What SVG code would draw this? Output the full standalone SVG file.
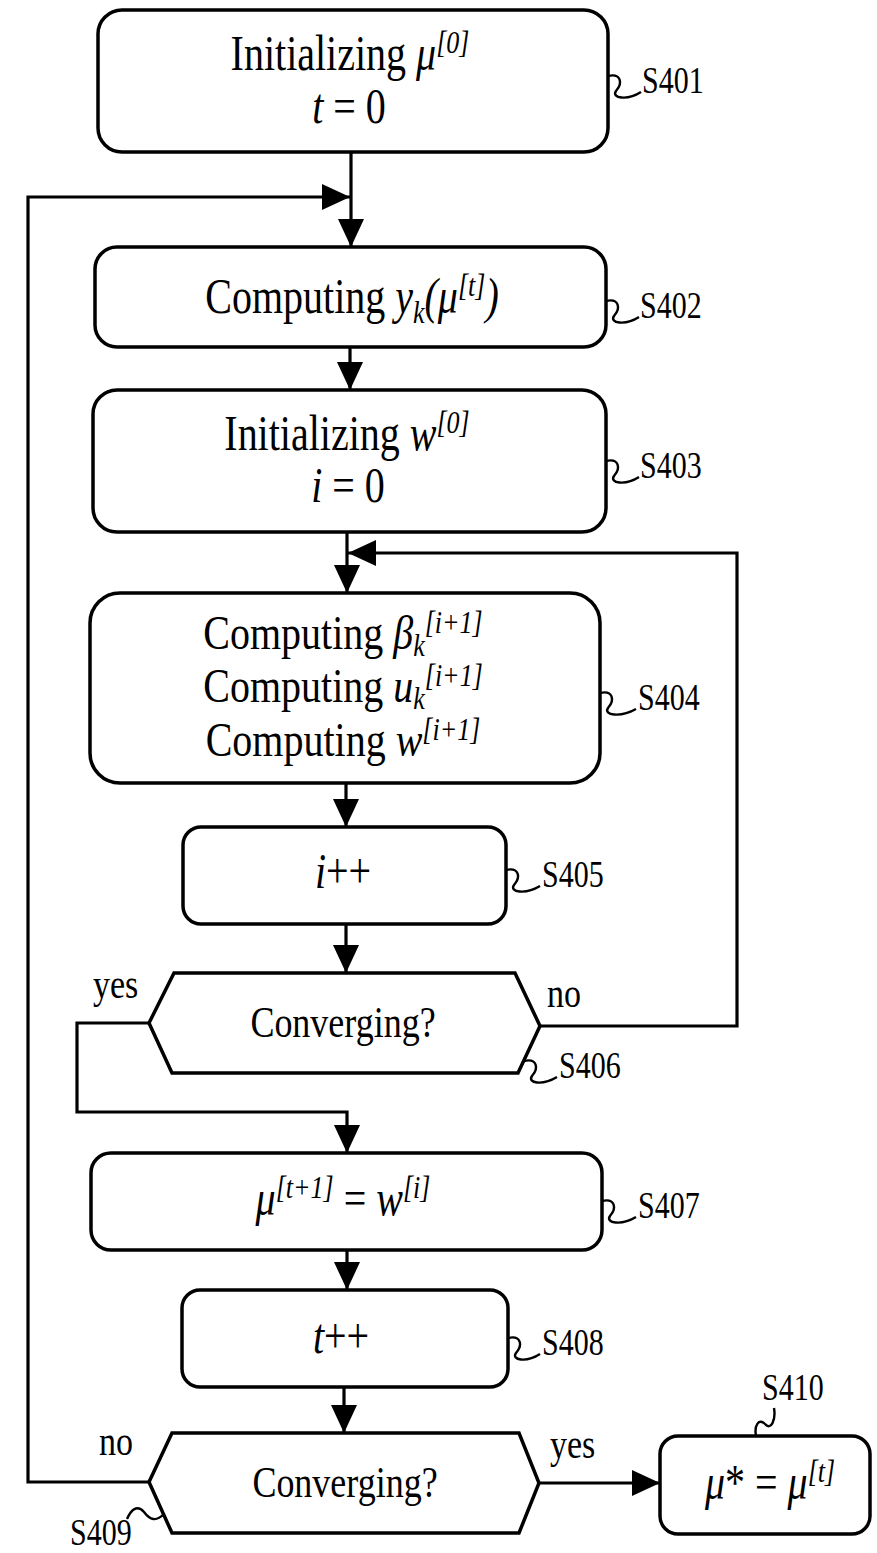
<svg xmlns="http://www.w3.org/2000/svg" width="877" height="1553" viewBox="0 0 877 1553">
<style>
  .box{fill:#fff;stroke:#000;stroke-width:3.5}
  .ln{fill:none;stroke:#000;stroke-width:3.2}
  .sq{fill:none;stroke:#000;stroke-width:2.4}
  text{font-family:"Liberation Serif","Times New Roman",serif;fill:#000}
  .t{font-size:40px;text-anchor:middle}
  .c{font-size:36px;text-anchor:middle}
  .lbl{font-size:30px}
  .yn{font-size:34px}
  .i{font-style:italic}
  .s{font-size:26px}
</style>
<defs>
  <marker id="ah" markerUnits="userSpaceOnUse" markerWidth="28" markerHeight="27" viewBox="0 0 28 26" refX="28" refY="13" orient="auto">
    <path d="M0,0 L28,13 L0,26 z" fill="#000"/>
  </marker>
</defs>

<g id="connectors">
  <path class="ln" d="M351,152 V247" marker-end="url(#ah)"/>
  <path class="ln" d="M149,1482 H28 V197 H350" marker-end="url(#ah)"/>
  <path class="ln" d="M350,347 V390" marker-end="url(#ah)"/>
  <path class="ln" d="M347,532 V593" marker-end="url(#ah)"/>
  <path class="ln" d="M540,1026 H737 V553 H348" marker-end="url(#ah)"/>
  <path class="ln" d="M346,783 V827" marker-end="url(#ah)"/>
  <path class="ln" d="M346,924 V973" marker-end="url(#ah)"/>
  <path class="ln" d="M149,1023 H77 V1112 H347 V1153" marker-end="url(#ah)"/>
  <path class="ln" d="M347,1250 V1290" marker-end="url(#ah)"/>
  <path class="ln" d="M344,1387 V1433" marker-end="url(#ah)"/>
  <path class="ln" d="M539,1483 H660" marker-end="url(#ah)"/>
  <text class="yn" transform="translate(93,998) scale(1,1.25)">yes</text>
  <text class="yn" transform="translate(547,1007) scale(1,1.25)">no</text>
  <text class="yn" transform="translate(99,1455) scale(1,1.25)">no</text>
  <text class="yn" transform="translate(550,1458) scale(1,1.25)">yes</text>
</g>

<g id="S401">
  <rect class="box" x="98" y="10" width="510" height="142" rx="24"/>
  <text class="t" transform="translate(350,70) scale(1,1.25)">Initializing <tspan class="i">μ</tspan><tspan class="i s" dy="-14">[0]</tspan></text>
  <text class="t" transform="translate(349,123) scale(1,1.25)"><tspan class="i">t</tspan> = 0</text>
  <path class="sq" d="M608,76 C621,73 623,83 616,91 C611,98 627,101 641,92"/>
  <text class="lbl" transform="translate(642,93) scale(1,1.25)">S401</text>
</g>

<g id="S402">
  <rect class="box" x="95" y="247" width="511" height="100" rx="22"/>
  <text class="t" transform="translate(352,313) scale(1,1.25)">Computing <tspan class="i">y</tspan><tspan class="i s" dy="8">k</tspan><tspan class="i" dy="-8">(μ</tspan><tspan class="i s" dy="-14">[t]</tspan><tspan class="i" dy="14">)</tspan></text>
  <path class="sq" d="M606,301 C619,298 621,308 614,316 C609,323 625,326 639,317"/>
  <text class="lbl" transform="translate(640,318) scale(1,1.25)">S402</text>
</g>

<g id="S403">
  <rect class="box" x="93" y="390" width="513" height="142" rx="24"/>
  <text class="t" transform="translate(347,450) scale(1,1.25)">Initializing <tspan class="i">w</tspan><tspan class="i s" dy="-14">[0]</tspan></text>
  <text class="t" transform="translate(348,502) scale(1,1.25)"><tspan class="i">i</tspan> = 0</text>
  <path class="sq" d="M606,461 C619,458 621,468 614,476 C609,483 625,486 639,477"/>
  <text class="lbl" transform="translate(640,478) scale(1,1.25)">S403</text>
</g>

<g id="S404">
  <rect class="box" x="90" y="593" width="510" height="190" rx="30"/>
  <text class="t" transform="translate(343,649) scale(1,1.2)">Computing <tspan class="i">β</tspan><tspan class="i s" dy="6">k</tspan><tspan class="i s" dy="-19">[i+1]</tspan></text>
  <text class="t" transform="translate(343,702) scale(1,1.2)">Computing <tspan class="i">u</tspan><tspan class="i s" dy="6">k</tspan><tspan class="i s" dy="-19">[i+1]</tspan></text>
  <text class="t" transform="translate(343,756) scale(1,1.2)">Computing <tspan class="i">w</tspan><tspan class="i s" dy="-13">[i+1]</tspan></text>
  <path class="sq" d="M600,693 C613,690 615,700 608,708 C603,715 620,718 636,709"/>
  <text class="lbl" transform="translate(638,710) scale(1,1.25)">S404</text>
</g>

<g id="S405">
  <rect class="box" x="183" y="827" width="323" height="97" rx="18"/>
  <text class="t" transform="translate(343,888) scale(1,1.25)"><tspan class="i">i</tspan>++</text>
  <path class="sq" d="M506,870 C519,867 521,877 514,885 C509,892 525,895 540,886"/>
  <text class="lbl" transform="translate(542,887) scale(1,1.25)">S405</text>
</g>

<g id="S406">
  <polygon class="box" points="174,973 515,973 540,1026 518,1073 172,1073 149,1023"/>
  <text class="c" transform="translate(343,1037) scale(1,1.25)">Converging?</text>
  <path class="sq" d="M524,1061 C537,1058 539,1068 532,1076 C527,1083 542,1086 557,1077"/>
  <text class="lbl" transform="translate(559,1078) scale(1,1.25)">S406</text>
</g>

<g id="S407">
  <rect class="box" x="91" y="1153" width="511" height="97" rx="20"/>
  <text class="t" transform="translate(343,1215) scale(1,1.25)"><tspan class="i">μ</tspan><tspan class="i s" dy="-14">[t+1]</tspan><tspan dy="14"> = </tspan><tspan class="i">w</tspan><tspan class="i s" dy="-14">[i]</tspan></text>
  <path class="sq" d="M602,1201 C615,1198 617,1208 610,1216 C605,1223 621,1226 636,1217"/>
  <text class="lbl" transform="translate(638,1218) scale(1,1.25)">S407</text>
</g>

<g id="S408">
  <rect class="box" x="182" y="1290" width="326" height="97" rx="18"/>
  <text class="t" transform="translate(341,1353) scale(1,1.25)"><tspan class="i">t</tspan>++</text>
  <path class="sq" d="M508,1338 C521,1335 523,1345 516,1353 C511,1360 526,1363 540,1354"/>
  <text class="lbl" transform="translate(542,1355) scale(1,1.25)">S408</text>
</g>

<g id="S409">
  <polygon class="box" points="172,1433 519,1433 539,1483 519,1533 172,1533 149,1482"/>
  <text class="c" transform="translate(345,1497) scale(1,1.25)">Converging?</text>
  <path class="sq" d="M127,1519 C131,1510 137,1504 144,1512 C150,1520 156,1522 164,1514"/>
  <text class="lbl" transform="translate(70,1545) scale(1,1.25)">S409</text>
</g>

<g id="S410">
  <rect class="box" x="660" y="1436" width="210" height="98" rx="18"/>
  <text class="t" transform="translate(770,1499) scale(1,1.25)"><tspan class="i">μ</tspan>* = <tspan class="i">μ</tspan><tspan class="i s" dy="-14">[t]</tspan></text>
  <path class="sq" d="M756,1436 C754,1425 759,1418 765,1424 C771,1431 776,1420 774,1408"/>
  <text class="lbl" transform="translate(762,1400) scale(1,1.25)">S410</text>
</g>
</svg>
